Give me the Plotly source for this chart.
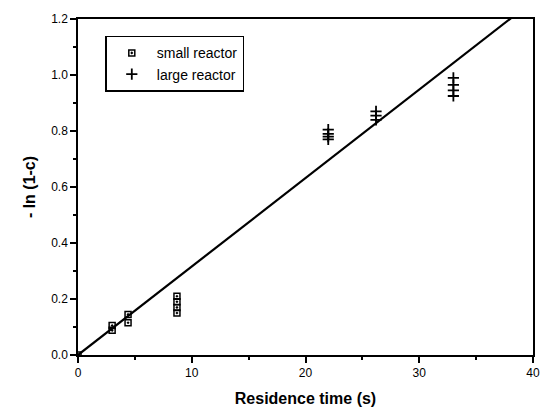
import plotly.graph_objects as go

# small reactor data
small_x = [0.0, 3.0, 3.0, 4.4, 4.4, 8.7, 8.7, 8.7, 8.7]
small_y = [0.0, 0.105, 0.088, 0.145, 0.115, 0.21, 0.19, 0.17, 0.15]
# large reactor data
large_x = [22.0, 22.0, 22.0, 22.0, 26.2, 26.2, 26.2, 33.0, 33.0, 33.0, 33.0]
large_y = [0.805, 0.79, 0.78, 0.77, 0.87, 0.855, 0.84, 0.99, 0.965, 0.945, 0.925]
# fitted line
fit_x = [0.0, 40.0]
fit_slope = 0.0316
fit_y = [v * fit_slope for v in fit_x]

x_ticks = [0, 10, 20, 30, 40]
y_ticks = [0.0, 0.2, 0.4, 0.6, 0.8, 1.0, 1.2]

fig = go.Figure()
fig.add_trace(go.Scatter(x=fit_x, y=fit_y, mode="lines",
                         line=dict(color="black", width=2.2), showlegend=False))
fig.add_trace(go.Scatter(x=small_x, y=small_y, mode="markers", name="small reactor",
                         marker=dict(symbol="square-open-dot", size=6, color="black",
                                     line=dict(width=1.5, color="black"))))
fig.add_trace(go.Scatter(x=large_x, y=large_y, mode="markers", name="large reactor",
                         marker=dict(symbol="cross-thin", size=8, color="black",
                                     line=dict(width=1.8, color="black"))))

font_family = "Liberation Sans, Arial, sans-serif"
fig.update_layout(
    width=552, height=418,
    margin=dict(l=78, r=14, t=15, b=63),
    plot_bgcolor="white", paper_bgcolor="white",
    font=dict(family=font_family, size=11, color="black"),
    legend=dict(x=0.06, y=0.95, xanchor="left", yanchor="top",
                bordercolor="black", borderwidth=1.5, bgcolor="white",
                font=dict(size=14), itemwidth=40, tracegroupgap=0),
    xaxis=dict(range=[0, 40], tickvals=x_ticks, ticktext=[str(t) for t in x_ticks],
               ticks="outside", ticklen=6, tickwidth=1.5, tickcolor="black",
               showline=True, linecolor="black", linewidth=1.5, mirror=True,
               showgrid=False, zeroline=False,
               minor=dict(dtick=5, ticks="outside", ticklen=3, tickcolor="black"),
               title=dict(text="<b>Residence time (s)</b>", font=dict(size=16), standoff=14),
               tickfont=dict(size=12)),
    yaxis=dict(range=[0, 1.2], tickvals=y_ticks, ticktext=[f"{t:.1f}" for t in y_ticks],
               ticks="outside", ticklen=6, tickwidth=1.5, tickcolor="black",
               showline=True, linecolor="black", linewidth=1.5, mirror=True,
               showgrid=False, zeroline=False,
               minor=dict(dtick=0.1, ticks="outside", ticklen=3, tickcolor="black"),
               title=dict(text="<b>- ln (1-c)</b>", font=dict(size=16), standoff=12),
               tickfont=dict(size=12)),
)
fig.write_html("out.html")
